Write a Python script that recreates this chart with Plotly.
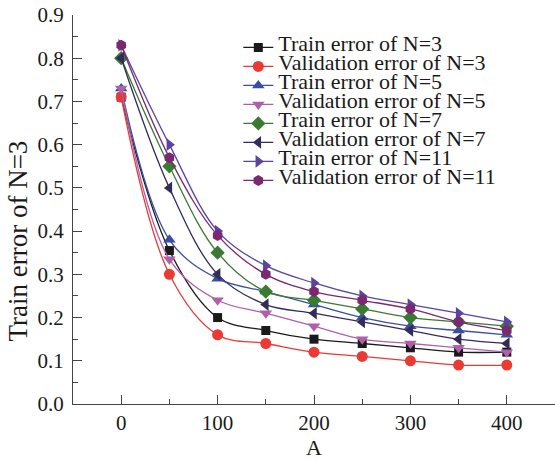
import plotly.graph_objects as go

x_vals = [0, 50, 100, 150, 200, 250, 300, 350, 400]

train_n3 = [0.71, 0.355, 0.20, 0.17, 0.15, 0.14, 0.13, 0.12, 0.12]
valid_n3 = [0.71, 0.30, 0.16, 0.14, 0.12, 0.11, 0.10, 0.09, 0.09]
train_n5 = [0.73, 0.38, 0.29, 0.26, 0.23, 0.20, 0.18, 0.17, 0.16]
valid_n5 = [0.73, 0.335, 0.24, 0.21, 0.18, 0.15, 0.14, 0.13, 0.12]
train_n7 = [0.80, 0.55, 0.35, 0.26, 0.24, 0.22, 0.20, 0.19, 0.18]
valid_n7 = [0.80, 0.50, 0.30, 0.23, 0.21, 0.19, 0.17, 0.15, 0.14]
train_n11 = [0.83, 0.60, 0.40, 0.32, 0.28, 0.25, 0.23, 0.21, 0.19]
valid_n11 = [0.83, 0.57, 0.39, 0.30, 0.26, 0.24, 0.22, 0.19, 0.17]

series = [
    ("Train error of N=3", train_n3, "#1a1a1a", "square", 9),
    ("Validation error of N=3", valid_n3, "#ea3a33", "circle", 11),
    ("Train error of N=5", train_n5, "#3a4ea0", "triangle-up", 11),
    ("Validation error of N=5", valid_n5, "#b060a8", "triangle-down", 11),
    ("Train error of N=7", train_n7, "#3b7a32", "diamond", 11),
    ("Validation error of N=7", valid_n7, "#342c58", "triangle-left", 11),
    ("Train error of N=11", train_n11, "#5a44a0", "triangle-right", 11),
    ("Validation error of N=11", valid_n11, "#7a2870", "hexagon", 11),
]

FONT = "Liberation Serif, Times New Roman, serif"

fig = go.Figure()
for name, vals, color, sym, size in series:
    fig.add_trace(go.Scatter(
        x=x_vals, y=vals, mode="lines+markers",
        name='<span style="font-size:22px">' + name + '</span>',
        line=dict(color=color, width=1.3, shape="spline", smoothing=1.0),
        marker=dict(symbol=sym, size=size, color=color, line=dict(width=0)),
    ))

fig.update_layout(
    width=555, height=461,
    margin=dict(l=73, r=0, t=15, b=57, autoexpand=False),
    paper_bgcolor="white", plot_bgcolor="white",
    font=dict(family=FONT, size=21, color="#1a1a1a"),
    showlegend=True,
    legend=dict(
        x=0.343, y=0.954, xanchor="left", yanchor="top",
        bgcolor="rgba(0,0,0,0)", font=dict(family=FONT, size=10, color="#1a1a1a"),
        tracegroupgap=0, itemwidth=30,
    ),
    annotations=[dict(
        text="Train error of N=3", textangle=-90,
        xref="paper", yref="paper", x=-0.115, y=0.419,
        xanchor="center", yanchor="middle", showarrow=False,
        font=dict(family=FONT, size=27, color="#1a1a1a"),
    )],
)

fig.update_xaxes(
    range=[-50, 450], tickvals=[0, 100, 200, 300, 400],
    ticks="inside", ticklen=9, tickwidth=1, tickcolor="#444",
    minor=dict(tickvals=[50, 150, 250, 350], ticks="inside", ticklen=5, tickcolor="#444"),
    showline=True, linecolor="#444", linewidth=1.2, mirror=False,
    showgrid=False, zeroline=False, automargin=False,
    ticklabeloverflow="allow",
    tickfont=dict(family=FONT, size=21),
    title=dict(text="A", font=dict(family=FONT, size=22), standoff=2),
)
fig.update_yaxes(
    range=[0, 0.9], tickvals=[0, 0.1, 0.2, 0.3, 0.4, 0.5, 0.6, 0.7, 0.8, 0.9],
    tickformat=".1f",
    ticks="inside", ticklen=9, tickwidth=1, tickcolor="#444",
    minor=dict(dtick=0.05, ticks="inside", ticklen=5, tickcolor="#444"),
    showline=True, linecolor="#444", linewidth=1.2, mirror=False,
    showgrid=False, zeroline=False, automargin=False,
    ticklabeloverflow="allow",
    ticklabelstandoff=4,
    tickfont=dict(family=FONT, size=21),
)

# remove the page's default 8px body margin so the figure sits at the window origin
fig.write_html("out.html", config={"displayModeBar": False},
               post_script="document.body.style.margin='0';")
